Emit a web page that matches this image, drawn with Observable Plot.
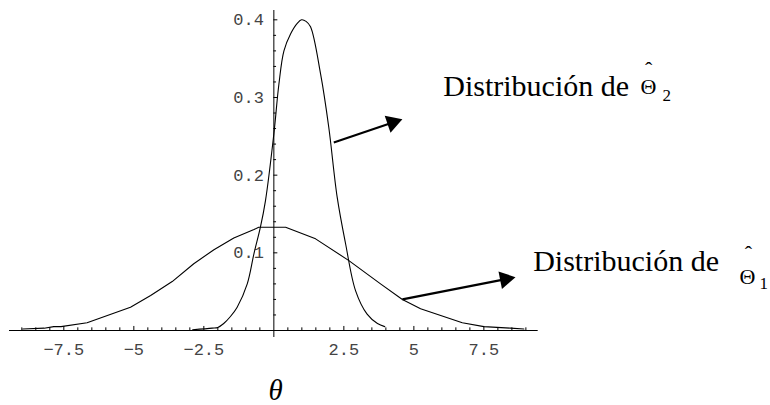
<!DOCTYPE html>
<html><head><meta charset="utf-8">
<script src="https://cdn.jsdelivr.net/npm/d3@7"></script>
<script src="https://cdn.jsdelivr.net/npm/@observablehq/plot@0.6"></script>
<style>body{margin:0;background:#fff}</style>
</head><body><div id="chart"></div>
<script>
// Distribution of Θ̂1 (wide)
const theta1 = [-8.97,-8.2,-7.86,-7.6,-6.67,-5.12,-4.4,-3.63,-2.86,-2.14,-1.43,-0.71,-0.54,0.42,1.49,2.68,3.81,4.59,5.24,6.73,7.5,8.45,8.93];
const dens1  = [0.002,0.003,0.005,0.005,0.010,0.030,0.045,0.063,0.086,0.104,0.119,0.130,0.133,0.133,0.118,0.090,0.060,0.040,0.028,0.010,0.005,0.003,0.002];
// Distribution of Θ̂2 (narrow)
const theta2 = [-2.9,-2.2,-2.0,-1.79,-1.55,-1.31,-0.95,-0.71,-0.48,-0.3,0.0,0.18,0.36,0.6,0.85,0.99,1.15,1.31,1.67,1.96,2.26,2.56,2.92,3.33,3.7,3.96];
const dens2  = [0.001,0.003,0.004,0.009,0.018,0.030,0.060,0.099,0.133,0.167,0.253,0.317,0.360,0.382,0.396,0.400,0.398,0.391,0.330,0.262,0.172,0.112,0.051,0.021,0.009,0.005];

const xMajorTicks = [-7.5,-5,-2.5,2.5,5,7.5];
const xTickLabels = ["\u22127.5","\u22125","\u22122.5","2.5","5","7.5"];
const yMajorTicks = [0.1,0.2,0.3,0.4];
const yTickLabels = ["0.1","0.2","0.3","0.4"];
const xMinorTicks = d3.range(-18,19).map(i=>i/2).filter(v => Math.abs(v % 2.5) > 1e-9);
const yMinorTicks = d3.range(1,21).filter(i => i % 5 !== 0).map(i => i/50);

const annLabel = ["Distribución de","Distribución de"];
const annSub = ["2","1"];
const annTextX = [6.05, 9.26], annTextY = [0.3017, 0.0763];
const annThetaX = [13.09, 16.63], annThetaY = [0.3039, 0.0605];
const annHatX = [13.38, 16.95], annHatY = [0.327, 0.0901];
const annSubX = [13.88, 17.34], annSubY = [0.296, 0.0528];
const arrowX1 = [2.14, 4.59], arrowY1 = [0.242, 0.040];
const arrowX2 = [4.59, 8.63], arrowY2 = [0.272, 0.0686];

const W = 770, H = 405, mL = 9, mR = 232.3, mT = 10, mB = 75;
const xDom = [-9.44, 9.44], yDom = [0, 0.412];
const kx = (W - mL - mR) / (xDom[1] - xDom[0]);
const ky = (H - mT - mB) / (yDom[1] - yDom[0]);

const s1 = theta1.map((t,i) => ({t, d: dens1[i]}));
const s2 = theta2.map((t,i) => ({t, d: dens2[i]}));

const headSide = 18, headC = headSide / Math.sqrt(3);
const headR = Math.sqrt((Math.sqrt(3) * headSide * headSide / 4) / Math.PI);
const arrows = arrowX1.map((x1,i) => {
  const x2 = arrowX2[i], y1 = arrowY1[i], y2 = arrowY2[i];
  const dxp = (x2-x1)*kx, dyp = -(y2-y1)*ky, len = Math.hypot(dxp,dyp);
  const ux = dxp/len, uy = dyp/len;
  return {
    x1, y1,
    xe: x2 - 1.2*headC*ux/kx, ye: y2 + 1.2*headC*uy/ky,
    hx: x2 - headC*ux/kx, hy: y2 + headC*uy/ky,
    rot: Math.atan2(dyp, dxp)*180/Math.PI + 90
  };
});

const mono = "'Liberation Mono', 'DejaVu Sans Mono', monospace";
const serif = "'Liberation Serif', 'DejaVu Serif', serif";

const chart = Plot.plot({
  width: W, height: H,
  marginLeft: mL, marginRight: mR, marginTop: mT, marginBottom: mB,
  x: {domain: xDom, axis: null},
  y: {domain: yDom, axis: null},
  style: {background: "#fff"},
  marks: [
    Plot.ruleY([0], {stroke: "#000", strokeWidth: 1}),
    Plot.ruleX([0], {y1: -0.009, y2: 0.412, stroke: "#000", strokeWidth: 1}),
    Plot.ruleX(xMajorTicks, {x: d => d, y1: 0, y2: 0.0052, stroke: "#000"}),
    Plot.ruleX(xMinorTicks, {x: d => d, y1: 0, y2: 0.0034, stroke: "#000"}),
    Plot.ruleY(yMajorTicks, {y: d => d, x1: 0, x2: 4/kx, stroke: "#000"}),
    Plot.ruleY(yMinorTicks, {y: d => d, x1: 0, x2: 2.7/kx, stroke: "#000"}),
    Plot.text(xMajorTicks, {x: d => d, y: 0, dy: 19, text: (d,i) => xTickLabels[i], fontFamily: mono, fontSize: 17, fill: "#444"}),
    Plot.text(yMajorTicks, {x: 0, y: d => d, dx: -10, text: (d,i) => yTickLabels[i], textAnchor: "end", fontFamily: mono, fontSize: 17, fill: "#444"}),
    Plot.line(s1, {x: "t", y: "d", stroke: "#000", strokeWidth: 1.1}),
    Plot.line(s2, {x: "t", y: "d", stroke: "#000", strokeWidth: 1.1, curve: "catmull-rom"}),
    Plot.link(arrows, {x1: "x1", y1: "y1", x2: "xe", y2: "ye", stroke: "#000", strokeWidth: 2.2}),
    Plot.dot(arrows, {x: "hx", y: "hy", symbol: "triangle", r: headR, rotate: "rot", fill: "#000", stroke: "none"}),
    Plot.text(annLabel, {x: (d,i) => annTextX[i], y: (d,i) => annTextY[i], text: d => d, textAnchor: "start", lineAnchor: "bottom", fontFamily: serif, fontSize: 30, fill: "#000"}),
    Plot.text(annSub, {x: (d,i) => annThetaX[i], y: (d,i) => annThetaY[i], text: () => "\u0398", textAnchor: "start", lineAnchor: "bottom", fontFamily: serif, fontSize: 22, fill: "#000"}),
    Plot.text(annSub, {x: (d,i) => annHatX[i], y: (d,i) => annHatY[i], text: () => "\u02C6", textAnchor: "middle", lineAnchor: "bottom", fontFamily: serif, fontSize: 22, fill: "#000"}),
    Plot.text(annSub, {x: (d,i) => annSubX[i], y: (d,i) => annSubY[i], text: d => d, textAnchor: "start", lineAnchor: "bottom", fontFamily: serif, fontSize: 17, fill: "#000"}),
    Plot.text(["\u03B8"], {x: 0.06, y: -0.09, text: d => d, lineAnchor: "bottom", fontFamily: serif, fontStyle: "italic", fontSize: 29, fill: "#000"})
  ]
});
document.getElementById("chart").appendChild(chart);
</script>
</body></html>
